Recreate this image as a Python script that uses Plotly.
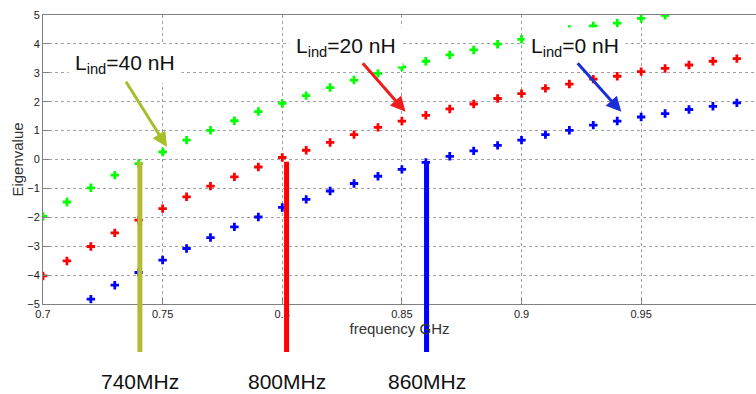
import plotly.graph_objects as go

# ---- data ----
freq_green = [0.70, 0.71, 0.72, 0.73, 0.74, 0.75, 0.76, 0.77, 0.78, 0.79, 0.80, 0.81, 0.82, 0.83,
              0.84, 0.85, 0.86, 0.87, 0.88, 0.89, 0.90, 0.91, 0.92, 0.93, 0.94, 0.95, 0.96]
eig_green = [-1.97, -1.47, -0.98, -0.54, -0.14, 0.26, 0.67, 1.01, 1.34, 1.66, 1.94, 2.21, 2.49, 2.75,
             2.98, 3.20, 3.40, 3.62, 3.79, 3.99, 4.16, 4.35, 4.50, 4.62, 4.72, 4.88, 4.99]

freq_red = [0.70, 0.71, 0.72, 0.73, 0.74, 0.75, 0.76, 0.77, 0.78, 0.79, 0.80, 0.81, 0.82, 0.83,
            0.84, 0.85, 0.86, 0.87, 0.88, 0.89, 0.90, 0.91, 0.92, 0.93, 0.94, 0.95, 0.96, 0.97,
            0.98, 0.99]
eig_red = [-4.03, -3.51, -3.01, -2.54, -2.10, -1.70, -1.29, -0.92, -0.60, -0.26, 0.07, 0.32, 0.59, 0.86,
           1.11, 1.33, 1.53, 1.75, 1.92, 2.11, 2.28, 2.46, 2.61, 2.78, 2.88, 3.04, 3.15, 3.27,
           3.40, 3.49]

freq_blue = [0.72, 0.73, 0.74, 0.75, 0.76, 0.77, 0.78, 0.79, 0.80, 0.81, 0.82, 0.83, 0.84, 0.85,
             0.86, 0.87, 0.88, 0.89, 0.90, 0.91, 0.92, 0.93, 0.94, 0.95, 0.96, 0.97, 0.98, 0.99]
eig_blue = [-4.83, -4.35, -3.91, -3.48, -3.08, -2.70, -2.33, -1.99, -1.66, -1.38, -1.09, -0.83, -0.58, -0.34,
            -0.10, 0.11, 0.30, 0.49, 0.67, 0.86, 1.01, 1.19, 1.33, 1.47, 1.59, 1.73, 1.84, 1.96]

series_labels = ["L<sub>ind</sub>=40 nH", "L<sub>ind</sub>=20 nH", "L<sub>ind</sub>=0 nH"]
resonance_freq = [0.7405, 0.8018, 0.8603]
resonance_labels = ["740MHz", "800MHz", "860MHz"]

x_ticks = [0.7, 0.75, 0.8, 0.85, 0.9, 0.95]
x_ticktext = ["0.7", "0.75", "0.8", "0.85", "0.9", "0.95"]
y_ticks = [-5, -4, -3, -2, -1, 0, 1, 2, 3, 4, 5]

# ---- styles ----
colors = ["#00ff00", "#ff0000", "#0000ff"]
line_colors = ["#b3bb33", "#ff0000", "#0000ff"]
arrow_colors = ["#a8bd2a", "#ee1c1c", "#1a2fd6"]

fig = go.Figure()
for fx, fy, c in [(freq_green, eig_green, colors[0]),
                  (freq_red, eig_red, colors[1]),
                  (freq_blue, eig_blue, colors[2])]:
    fig.add_trace(go.Scatter(x=fx, y=fy, mode="markers",
                             marker=dict(symbol="cross", size=7, color=c, line=dict(width=0)),
                             showlegend=False, cliponaxis=True))

# vertical resonance lines extending below the plot
for fr, lc in zip(resonance_freq, line_colors):
    fig.add_shape(type="line", xref="x", yref="paper", x0=fr, x1=fr, y0=-0.166, y1=0.492,
                  line=dict(color=lc, width=5))

for fr, lab in zip(resonance_freq, resonance_labels):
    fig.add_annotation(x=fr, y=-0.269, xref="x", yref="paper", text=lab, showarrow=False,
                       font=dict(size=21, color="#111111", family="Liberation Sans, Arial"),
                       xanchor="center", yanchor="middle")

# label text boxes (positions)
text_pos = [(0.7343, 3.30), (0.8266, 3.88), (0.9222, 3.88)]
arrow_tail = [(0.7343, 2.74), (0.8331, 3.38), (0.9229, 3.38)]
arrow_head = [(0.7518, 0.43), (0.8515, 1.65), (0.9417, 1.65)]

for (tx, ty), lab in zip(text_pos, series_labels):
    fig.add_annotation(x=tx, y=ty, xref="x", yref="y", text=lab, showarrow=False,
                       font=dict(size=21, color="#111111", family="Liberation Sans, Arial"),
                       bgcolor="white", borderpad=6, xanchor="center", yanchor="middle")

for (ax_, ay_), (hx, hy), ac in zip(arrow_tail, arrow_head, arrow_colors):
    fig.add_annotation(x=hx, y=hy, ax=ax_, ay=ay_, xref="x", yref="y", axref="x", ayref="y",
                       text="", showarrow=True, arrowhead=2, arrowsize=1.0, arrowwidth=3,
                       arrowcolor=ac)

fig.update_layout(
    width=756, height=394,
    margin=dict(l=43, r=0, t=15, b=90),
    paper_bgcolor="white", plot_bgcolor="white",
    font=dict(family="Liberation Sans, Arial", color="#333333"),
    xaxis=dict(range=[0.7, 0.998], tickvals=x_ticks, ticktext=x_ticktext, automargin=False,
               showgrid=True, gridcolor="#a0a0a0", griddash="dot", gridwidth=1,
               zeroline=False, showline=True, linecolor="#808080", linewidth=1, mirror=True,
               ticks="inside", ticklen=6, tickcolor="#808080",
               tickfont=dict(size=11, color="#222222"),
               title=dict(text="frequency GHz", font=dict(size=15, color="#333333"), standoff=2)),
    yaxis=dict(range=[-5, 5], tickvals=y_ticks, automargin=False,
               showgrid=True, gridcolor="#a0a0a0", griddash="dot", gridwidth=1,
               zeroline=False, showline=True, linecolor="#808080", linewidth=1, mirror=True,
               ticks="inside", ticklen=6, tickcolor="#808080",
               tickfont=dict(size=11, color="#222222"),
               title=dict(text="Eigenvalue", font=dict(size=15, color="#333333"), standoff=0)),
)

fig.write_html("out.html", config={"displayModeBar": False},
               post_script="document.body.style.margin='0';document.body.style.overflow='hidden';")
